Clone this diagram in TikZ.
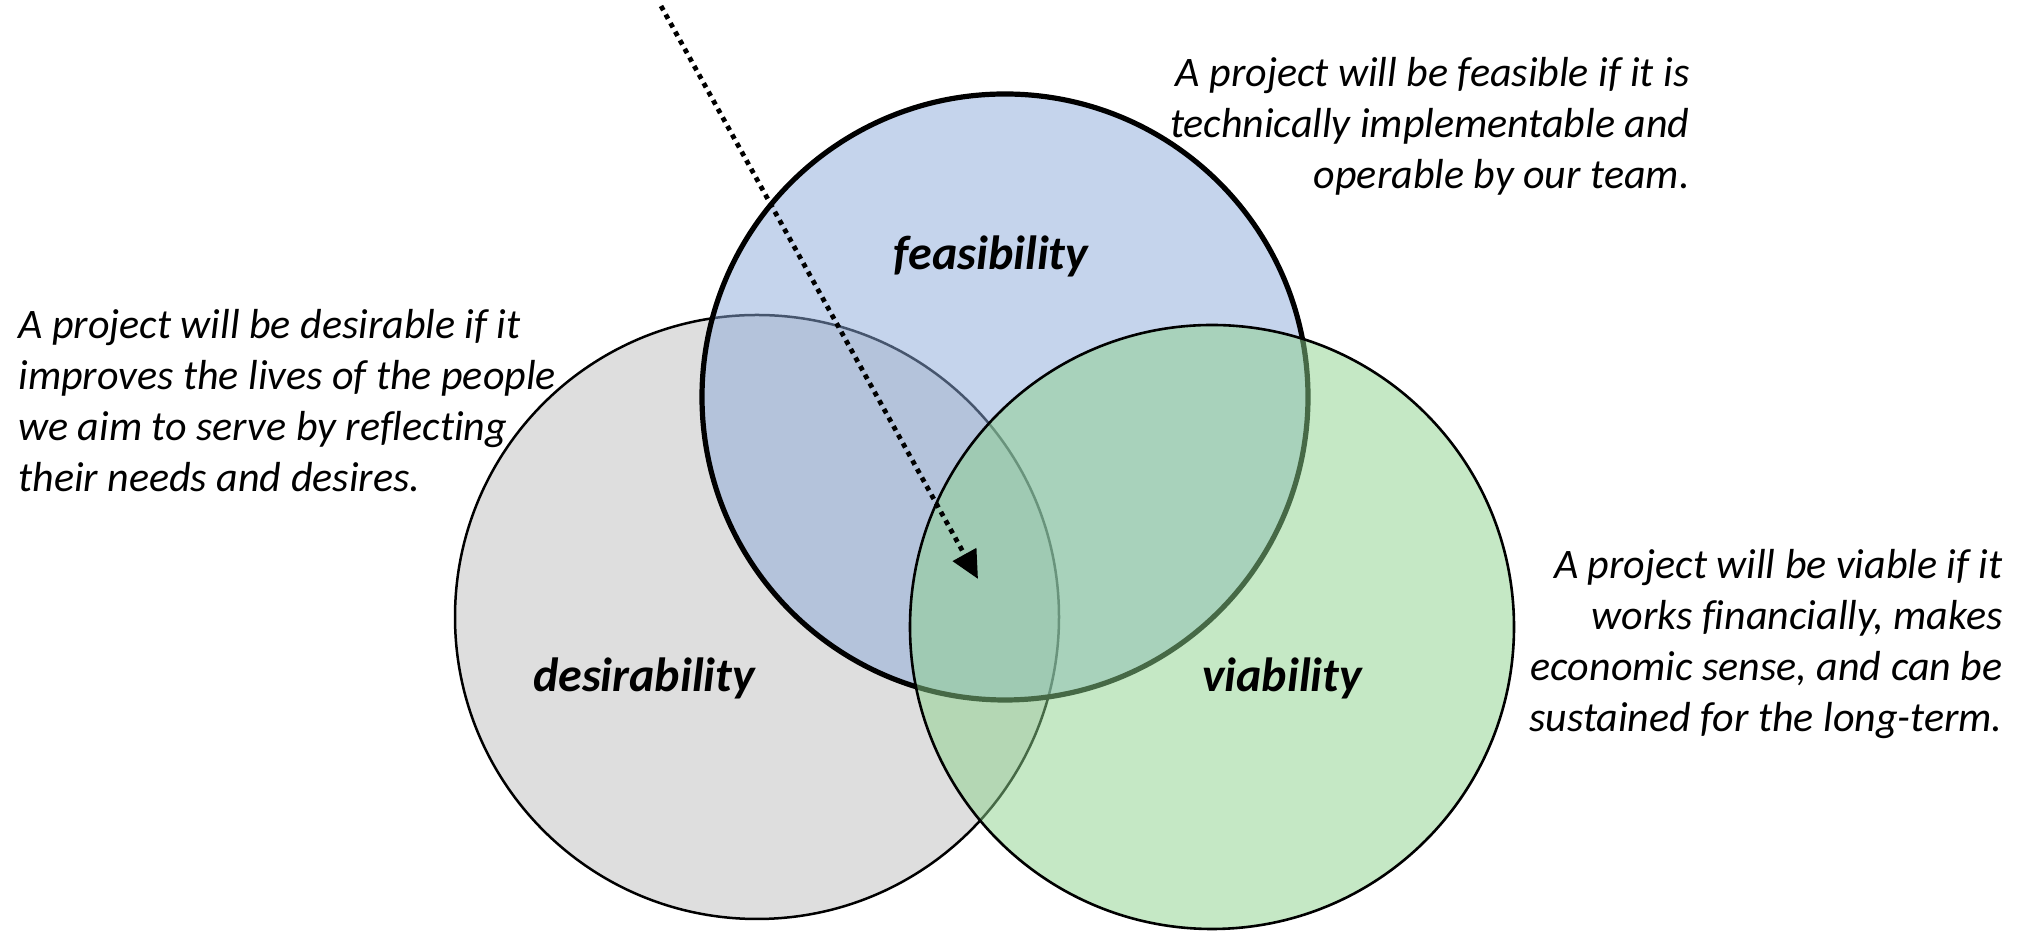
\documentclass[tikz,border=0pt]{standalone}
\usepackage{fontspec}
\setmainfont{Carlito}[Ligatures=NoCommon]
\usetikzlibrary{arrows.meta}
\definecolor{desirfill}{RGB}{222,222,222}
\definecolor{feasfill}{RGB}{140,170,218}
\definecolor{viabfill}{RGB}{140,210,140}
\begin{document}
\begin{tikzpicture}[x=0.5pt,y=0.5pt,
  venn/.style={circle, inner sep=0pt, outer sep=0pt, draw=black},
  setlabel/.style={font=\fontsize{24pt}{28pt}\selectfont\bfseries\itshape, inner sep=0pt},
  note/.style={font=\fontsize{21pt}{25.5pt}\selectfont\itshape, inner sep=0pt},
  pointer/.style={line width=2.4pt, dash pattern=on 2.4pt off 2.5pt,
    -{Triangle[length=14pt,width=13pt]}}
]
% canvas
\fill[white] (0,0) rectangle (2031,928);

% the three sets
\node[venn, fill=desirfill, line width=1.25pt, minimum size=302pt] (desir) at (757,311) {};
\node[venn, fill=feasfill, fill opacity=0.5, line width=2.6pt, minimum size=303pt] (feas) at (1005,531) {};
\node[venn, fill=viabfill, fill opacity=0.5, line width=1.3pt, minimum size=302pt] (viab) at (1212,301) {};

% set names
\node[setlabel] (feasname) at (991,672) {feasibility};
\node[setlabel] (desirname) at (644,250) {desirability};
\node[setlabel] (viabname) at (1282,250) {viability};

% descriptions
\node[note, align=left, anchor=north west] (desirnote) at (18,619)
  {A project will be desirable if it\\improves the lives of the people\\we aim to serve by reflecting\\their needs and desires.};
\node[note, align=right, anchor=north east] (feasnote) at (1690,871)
  {A project will be feasible if it is\\technically implementable and\\operable by our team.};
\node[note, align=right, anchor=north east] (viabnote) at (2003,379)
  {A project will be viable if it\\works financially, makes\\economic sense, and can be\\sustained for the long-term.};

% pointer into the centre
\coordinate (ptrstart) at (661,922);
\coordinate (ptrend) at (978,349);
\draw[pointer] (ptrstart) -- (ptrend);
\end{tikzpicture}
\end{document}
